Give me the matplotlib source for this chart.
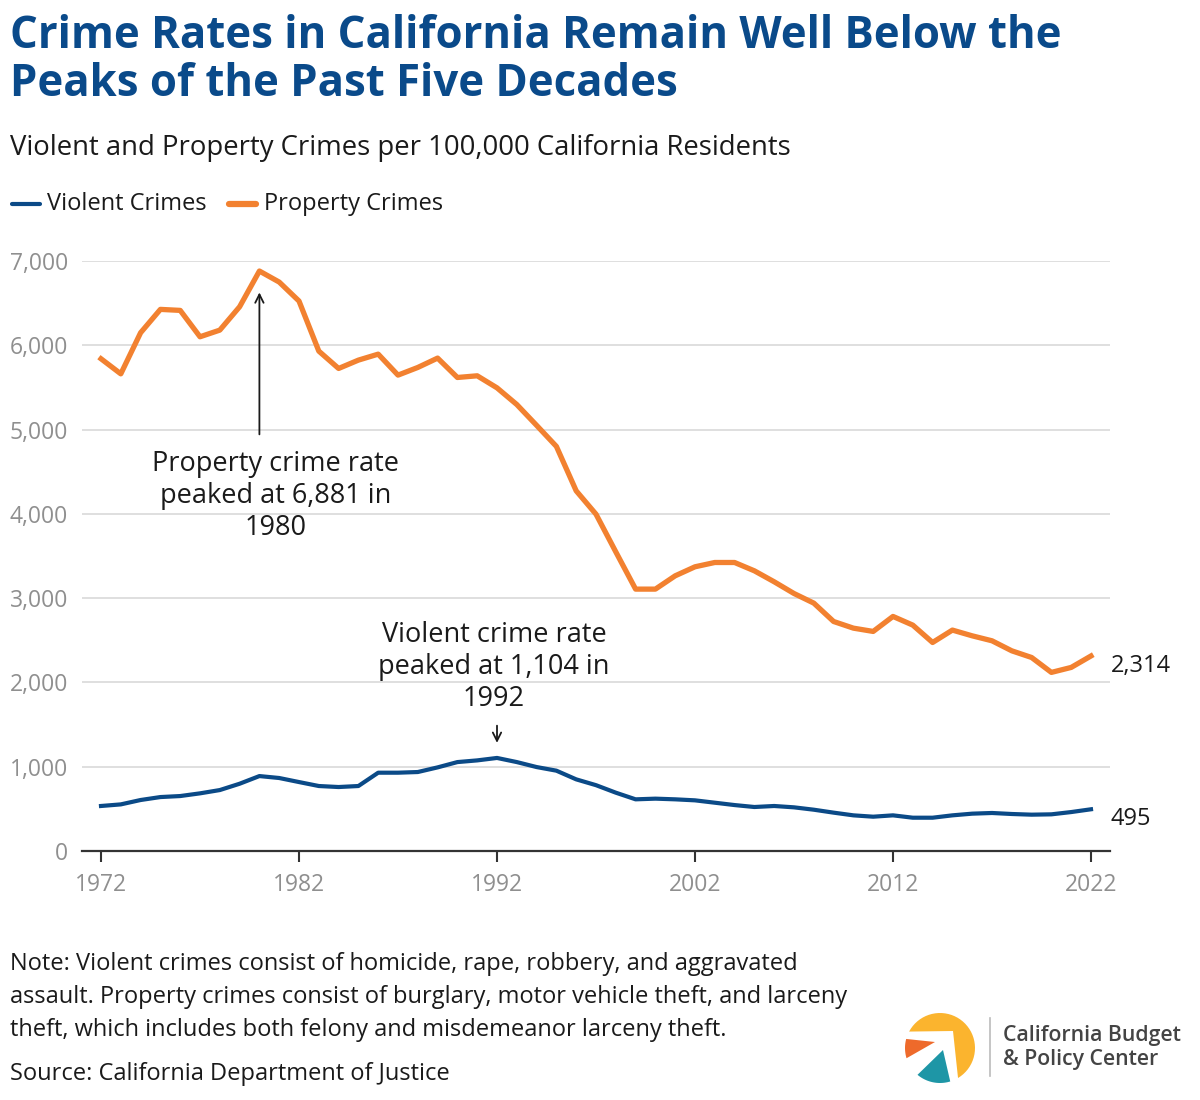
import matplotlib
matplotlib.use("Agg")
import numpy as np
import matplotlib.pyplot as plt
from matplotlib.lines import Line2D
from matplotlib.patches import Polygon
from matplotlib.ticker import FuncFormatter, FixedLocator

plt.rcParams['font.family'] = ['Open Sans', 'DejaVu Sans']

years = list(range(1972, 2023))
property_crimes = [5840, 5661, 6149, 6426, 6414, 6101, 6180, 6457, 6881, 6750,
                   6525, 5931, 5725, 5824, 5895, 5646, 5737, 5848, 5618, 5638,
                   5495, 5297, 5050, 4800, 4273, 3996, 3549, 3107, 3107, 3265,
                   3372, 3423, 3423, 3324, 3194, 3055, 2941, 2723, 2644, 2605,
                   2783, 2680, 2474, 2621, 2553, 2494, 2375, 2296, 2119, 2178,
                   2314]
violent_crimes = [534, 553, 605, 640, 652, 684, 723, 798, 889, 866,
                  818, 771, 759, 771, 929, 929, 937, 992, 1055, 1075,
                  1104, 1055, 996, 953, 850, 781, 692, 613, 621, 613,
                  601, 573, 545, 522, 534, 518, 490, 455, 423, 407,
                  423, 395, 395, 423, 443, 451, 439, 431, 435, 462,
                  495]
x_ticks = [1972, 1982, 1992, 2002, 2012, 2022]
y_ticks = [0, 1000, 2000, 3000, 4000, 5000, 6000, 7000]

BLUE = '#0B4A87'
ORANGE = '#F28130'
TITLE = '#0A4A8A'
GRAY = '#8F8F8F'
TEXT = '#1a1a1a'

W, H = 1200, 1100
fig = plt.figure(figsize=(12, 11), dpi=100)

def fx(px):
    return px / W

def fy(py):
    return 1 - py / H

# Title
fig.text(fx(10), fy(36), "Crime Rates in California Remain Well Below the",
         fontsize=31.5, fontweight='bold', color=TITLE, va='center', ha='left')
fig.text(fx(10), fy(84), "Peaks of the Past Five Decades",
         fontsize=31.5, fontweight='bold', color=TITLE, va='center', ha='left')
fig.text(fx(10), fy(148), "Violent and Property Crimes per 100,000 California Residents",
         fontsize=19.8, color=TEXT, va='center', ha='left')

# Legend (manual)
fig.add_artist(Line2D([fx(12), fx(40)], [fy(204), fy(204)], color=BLUE, lw=3,
                      solid_capstyle='round'))
fig.text(fx(47), fy(204), "Violent Crimes", fontsize=17, color=TEXT, va='center')
fig.add_artist(Line2D([fx(229), fx(256)], [fy(204), fy(204)], color=ORANGE, lw=4.5,
                      solid_capstyle='round'))
fig.text(fx(264), fy(204), "Property Crimes", fontsize=17, color=TEXT, va='center')

# Axes
ax = fig.add_axes([fx(82), fy(851), fx(1110) - fx(82), fy(261) - fy(851)])
ax.set_xlim(1971.04, 2022.96)
ax.set_ylim(0, 7000)
ax.plot(years, property_crimes, color=ORANGE, lw=3.8, clip_on=False, zorder=3)
ax.plot(years, violent_crimes, color=BLUE, lw=3.0, clip_on=False, zorder=3)

ax.yaxis.set_major_locator(FixedLocator(y_ticks))
ax.xaxis.set_major_locator(FixedLocator(x_ticks))
ax.yaxis.set_major_formatter(FuncFormatter(lambda v, p: f"{int(v):,}"))
ax.grid(axis='y', color='#DCDCDC', lw=1.3)
ax.set_axisbelow(True)
for s in ['top', 'right', 'left']:
    ax.spines[s].set_visible(False)
ax.spines['bottom'].set_color('#333333')
ax.spines['bottom'].set_linewidth(1.6)
ax.tick_params(axis='y', length=0, labelsize=16.5, labelcolor=GRAY, pad=10)
ax.tick_params(axis='x', length=8, width=1.5, color='#333333', labelsize=16.5,
               labelcolor=GRAY, pad=8)

# Annotations
ax.annotate("", xy=(1980, 6660), xytext=(1980, 4910),
            arrowprops=dict(arrowstyle='->,head_length=0.6,head_width=0.3', color=TEXT, lw=1.3))
ax.text(1980.8, 4212, "Property crime rate\npeaked at 6,881 in\n1980", fontsize=19.5,
        ha='center', va='center', color=TEXT, linespacing=1.2)
ax.annotate("", xy=(1992, 1250), xytext=(1992, 1520),
            arrowprops=dict(arrowstyle='->,head_length=0.6,head_width=0.3', color=TEXT, lw=1.3))
ax.text(1991.85, 2183, "Violent crime rate\npeaked at 1,104 in\n1992", fontsize=19.5,
        ha='center', va='center', color=TEXT, linespacing=1.2)

ax.annotate(f"{property_crimes[-1]:,}", xy=(years[-1], property_crimes[-1]),
            xytext=(14, -7), textcoords='offset points', fontsize=17,
            ha='left', va='center', color=TEXT)
ax.annotate(f"{violent_crimes[-1]:,}", xy=(years[-1], violent_crimes[-1]),
            xytext=(14, -7), textcoords='offset points', fontsize=17,
            ha='left', va='center', color=TEXT)

# Footer notes
notes = ["Note: Violent crimes consist of homicide, rape, robbery, and aggravated",
         "assault. Property crimes consist of burglary, motor vehicle theft, and larceny",
         "theft, which includes both felony and misdemeanor larceny theft."]
for i, line in enumerate(notes):
    fig.text(fx(10), fy(964 + 33 * i), line, fontsize=17, color=TEXT, va='center')
fig.text(fx(10), fy(1074), "Source: California Department of Justice", fontsize=17,
         color=TEXT, va='center')

# Logo
lax = fig.add_axes([fx(900), fy(1090), fx(90), fy(1000) - fy(1090)])
lax.set_xlim(900, 990)
lax.set_ylim(1090, 1000)
lax.set_aspect('equal')
lax.axis('off')
cx, cy, r = 940, 1048, 35

def arc(t1, t2, n=40):
    t = np.radians(np.linspace(t1, t2, n))
    return list(zip(cx + r * np.cos(t), cy - r * np.sin(t)))

lax.add_patch(Polygon(arc(152, -59) + [(953, 1031)], closed=True, color='#FBB42E', lw=0))
lax.add_patch(Polygon(arc(165, 197) + [(935, 1042)], closed=True, color='#EE6A2B', lw=0))
lax.add_patch(Polygon(arc(230, 287) + [(943, 1050)], closed=True, color='#1E96A6', lw=0))
fig.add_artist(Line2D([fx(990), fx(990)], [fy(1018), fy(1076)], color='#BBBBBB', lw=1.2))
fig.text(fx(1003), fy(1035), "California Budget", fontsize=15.3, fontweight='semibold',
         color='#444444', va='center')
fig.text(fx(1003), fy(1059), "& Policy Center", fontsize=15.3, fontweight='semibold',
         color='#444444', va='center')

fig.savefig("out.png", dpi=100, facecolor='white')
